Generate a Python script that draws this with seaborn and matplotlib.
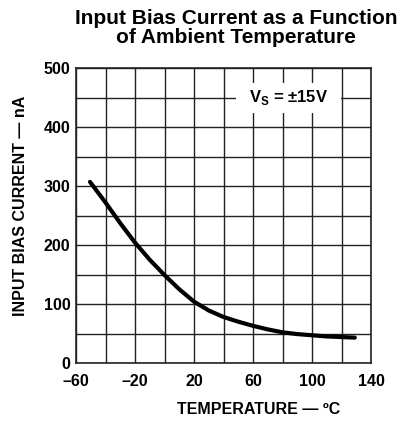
import matplotlib
matplotlib.use("Agg")
import matplotlib.pyplot as plt
import seaborn as sns
import pandas as pd

# curve
temperature = [-50.5, -40, -30, -20, -10, 0, 10, 20, 30, 40, 50, 60, 70, 80, 90, 100, 110, 120, 129]
bias_current = [307, 272, 237, 204, 175, 149, 125, 104, 89, 78, 70, 63, 57, 52, 49, 47, 45, 44, 43]

x_ticks = [-60, -20, 20, 60, 100, 140]
x_tick_labels = ["\u201360", "\u201320", "20", "60", "100", "140"]
y_ticks = [0, 100, 200, 300, 400, 500]

df = pd.DataFrame({"temp": temperature, "ib": bias_current})

sns.set_style("white")
plt.rcParams["font.family"] = ["Liberation Sans", "DejaVu Sans"]
plt.rcParams["font.weight"] = "bold"
plt.rcParams["text.color"] = "black"
plt.rcParams["xtick.color"] = "black"
plt.rcParams["ytick.color"] = "black"
plt.rcParams["mathtext.fontset"] = "custom"
plt.rcParams["mathtext.rm"] = "Liberation Sans:bold"
plt.rcParams["mathtext.bf"] = "Liberation Sans:bold"

fig = plt.figure(figsize=(4.12, 4.22), dpi=100)
ax = fig.add_axes([76 / 412, 1 - 363 / 422, 295 / 412, 295 / 422])

# grid every 20 degC and 50 nA
for gx in range(-60, 141, 20):
    ax.axvline(gx, color="#222222", lw=1.0, zorder=1)
for gy in range(0, 501, 50):
    ax.axhline(gy, color="#222222", lw=1.0, zorder=1)

sns.lineplot(data=df, x="temp", y="ib", ax=ax, color="black", lw=3.0, zorder=4)
ax.lines[-1].set_solid_joinstyle("round")

ax.set_xlim(-60, 140)
ax.set_ylim(0, 500)
ax.set_xticks(x_ticks)
ax.set_xticklabels(x_tick_labels)
ax.set_yticks(y_ticks)
ax.tick_params(axis="both", length=0, labelsize=11.5, colors="black")
ax.tick_params(axis="x", pad=8)
ax.tick_params(axis="y", pad=4)
for lab in ax.get_xticklabels() + ax.get_yticklabels():
    lab.set_fontweight("bold")
for sp in ax.spines.values():
    sp.set_color("#222222")
    sp.set_linewidth(1.2)

ax.set_xlabel("")
ax.set_ylabel("")

# supply voltage note on a white patch
ax.add_patch(plt.Rectangle((48.5, 423), 71, 52, facecolor="white", edgecolor="none", zorder=3))
ax.text(84, 450, r"V$_{\mathrm{S}}$ = ±15V", ha="center", va="center",
        fontsize=12, fontweight="bold", zorder=5)

fig.text(236 / 412, 1 - 28 / 422, "Input Bias Current as a Function\nof Ambient Temperature",
         ha="center", va="center", fontsize=15, fontweight="bold", linespacing=1.0)
fig.text(259 / 412, 1 - 410 / 422, "TEMPERATURE \u2014 ºC", ha="center", va="center",
         fontsize=11.5, fontweight="bold")
fig.text(21 / 412, 1 - 206 / 422, "INPUT BIAS CURRENT \u2014 nA", ha="center", va="center",
         rotation=90, fontsize=11.5, fontweight="bold")

fig.savefig("out.png", dpi=100)
